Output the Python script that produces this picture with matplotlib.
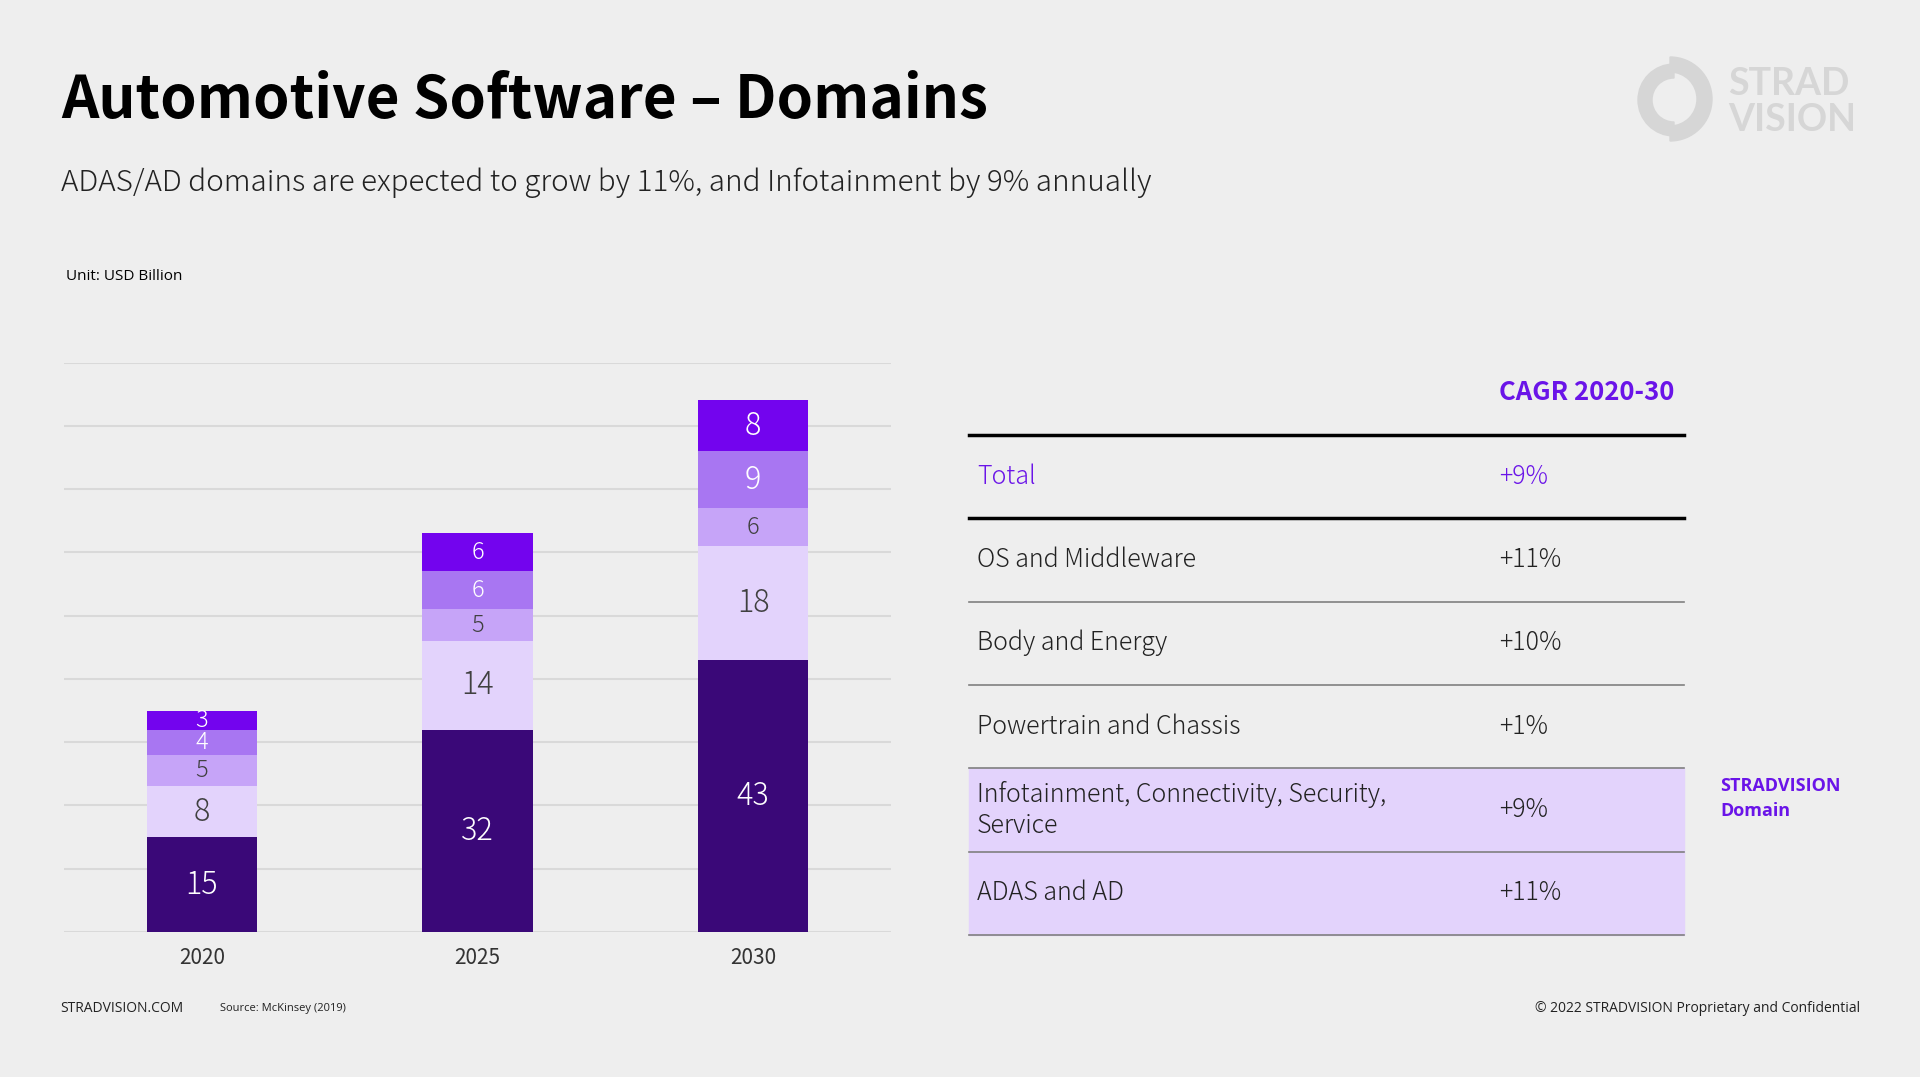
import numpy as np
import matplotlib.pyplot as plt
from matplotlib.patches import Rectangle, Wedge

# bar chart data (USD billion)
years = ['2020', '2025', '2030']
segments = ['ADAS and AD', 'Infotainment', 'Powertrain and Chassis', 'Body and Energy', 'OS and Middleware']
adas = [15, 32, 43]
infotainment = [8, 14, 18]
powertrain = [5, 5, 6]
body = [4, 6, 9]
os_mw = [3, 6, 8]
seg_colors = ['#3a0878', '#e3d3fc', '#c6a4f8', '#a876f2', '#7304ee']
label_colors = ['white', '#404040', '#404040', 'white', 'white']

# CAGR table
table_rows = ['Total', 'OS and Middleware', 'Body and Energy', 'Powertrain and Chassis',
              'Infotainment, Connectivity, Security,\nService', 'ADAS and AD']
table_cagr = ['+9%', '+11%', '+10%', '+1%', '+9%', '+11%']

BG = '#eeeeee'
PURPLE = '#6a14e8'
light_font = ['Noto Sans CJK JP', 'DejaVu Sans']
bold_font = ['Noto Sans CJK JP', 'DejaVu Sans']
small_font = ['Open Sans', 'DejaVu Sans']

W, H = 1920, 1077
fig = plt.figure(figsize=(W / 100, H / 100), dpi=100, facecolor=BG)

# full-figure axes in pixel coords for text, table, logo
bg = fig.add_axes([0, 0, 1, 1])
bg.set_xlim(0, W)
bg.set_ylim(H, 0)
bg.axis('off')
bg.set_facecolor(BG)

bg.text(61, 101, 'Automotive Software – Domains', fontsize=42, fontweight='bold',
        family=bold_font, va='center', ha='left', color='black')
bg.text(61, 183, 'ADAS/AD domains are expected to grow by 11%, and Infotainment by 9% annually',
        fontsize=21.3, fontweight='light', family=light_font, va='center', ha='left', color='#222222')
bg.text(66, 276, 'Unit: USD Billion', fontsize=11, family=small_font,
        va='center', ha='left', color='black')

# footer
bg.text(60, 1009, 'STRADVISION.COM', fontsize=10, family=small_font,
        va='center', ha='left', color='#222222')
bg.text(220, 1009, 'Source: McKinsey (2019)', fontsize=8, family=small_font,
        va='center', ha='left', color='#222222')
bg.text(1860, 1009, '© 2022 STRADVISION Proprietary and Confidential', fontsize=10,
        family=small_font, va='center', ha='right', color='#222222')

# logo
logo_c = '#d6d6d6'
bg.add_patch(Wedge((1674, 100), 36, 90, 270, width=14, color=logo_c))
bg.add_patch(Wedge((1670, 99), 42, -90, 90, width=15, color=logo_c))
bg.text(1728, 84, 'STRAD', fontsize=27, fontweight='bold', family=['Lato', 'DejaVu Sans'],
        va='center', ha='left', color=logo_c)
bg.text(1728, 120, 'VISION', fontsize=27, fontweight='bold', family=['Lato', 'DejaVu Sans'],
        va='center', ha='left', color=logo_c)

# table
tx0, tx1 = 969, 1684
row_h = 83.3
y_head = 435
bg.text(1499, 392, 'CAGR 2020-30', fontsize=18.5, fontweight='bold', family=bold_font,
        va='center', ha='left', color=PURPLE)
bg.add_patch(Rectangle((tx0, y_head + 4 * row_h), tx1 - tx0, 2 * row_h, color='#e3d3fc', zorder=1))
bg.plot([tx0, tx1], [y_head, y_head], color='black', lw=2.5, zorder=3)
for i, (name, val) in enumerate(zip(table_rows, table_cagr)):
    yc = y_head + (i + 0.5) * row_h
    col = PURPLE if i == 0 else '#222222'
    bg.text(977, yc, name, fontsize=18, fontweight='light', family=light_font, va='center',
            ha='left', color=col, linespacing=1.25, zorder=4)
    bg.text(1499, yc, val, fontsize=18, fontweight='light', family=light_font, va='center',
            ha='left', color=col, zorder=4)
    yl = y_head + (i + 1) * row_h
    if i == 0:
        bg.plot([tx0, tx1], [yl, yl], color='black', lw=2.5, zorder=3)
    else:
        bg.plot([tx0, tx1], [yl, yl], color='#808080', lw=1.2, zorder=3)
bg.text(1720, 786, 'STRADVISION', fontsize=13, fontweight='bold', family=small_font,
        va='center', ha='left', color=PURPLE)
bg.text(1720, 811, 'Domain', fontsize=13, fontweight='bold', family=small_font,
        va='center', ha='left', color=PURPLE)

# stacked bar chart
ax = fig.add_axes([64 / W, 1 - 932 / H, (891 - 64) / W, (932 - 362.5) / H])
ax.set_facecolor('none')
x = np.arange(len(years))
bottom = np.zeros(len(years))
for vals, c, lc in zip([adas, infotainment, powertrain, body, os_mw], seg_colors, label_colors):
    vals = np.array(vals)
    ax.bar(x, vals, 0.4, bottom=bottom, color=c, edgecolor='none', zorder=3)
    for xi, v, b in zip(x, vals, bottom):
        fs = 22 if v >= 8 else 17
        ax.text(xi, b + v / 2, str(v), ha='center', va='center', fontsize=fs,
                fontweight='light', family=light_font, color=lc, zorder=4)
    bottom += vals

ax.set_xlim(-0.5, 2.5)
ax.set_ylim(0, 90)
ax.set_yticks(np.arange(0, 91, 10))
ax.yaxis.grid(True, color='#d9d9d9', lw=1.5, zorder=0)
ax.tick_params(axis='y', left=False, labelleft=False)
ax.tick_params(axis='x', bottom=False, labelsize=15, pad=7)
ax.set_xticks(x)
ax.set_xticklabels(years, family=light_font, color='#333333')
for s in ax.spines.values():
    s.set_visible(False)

fig.savefig('out.png', dpi=100, facecolor=BG)
